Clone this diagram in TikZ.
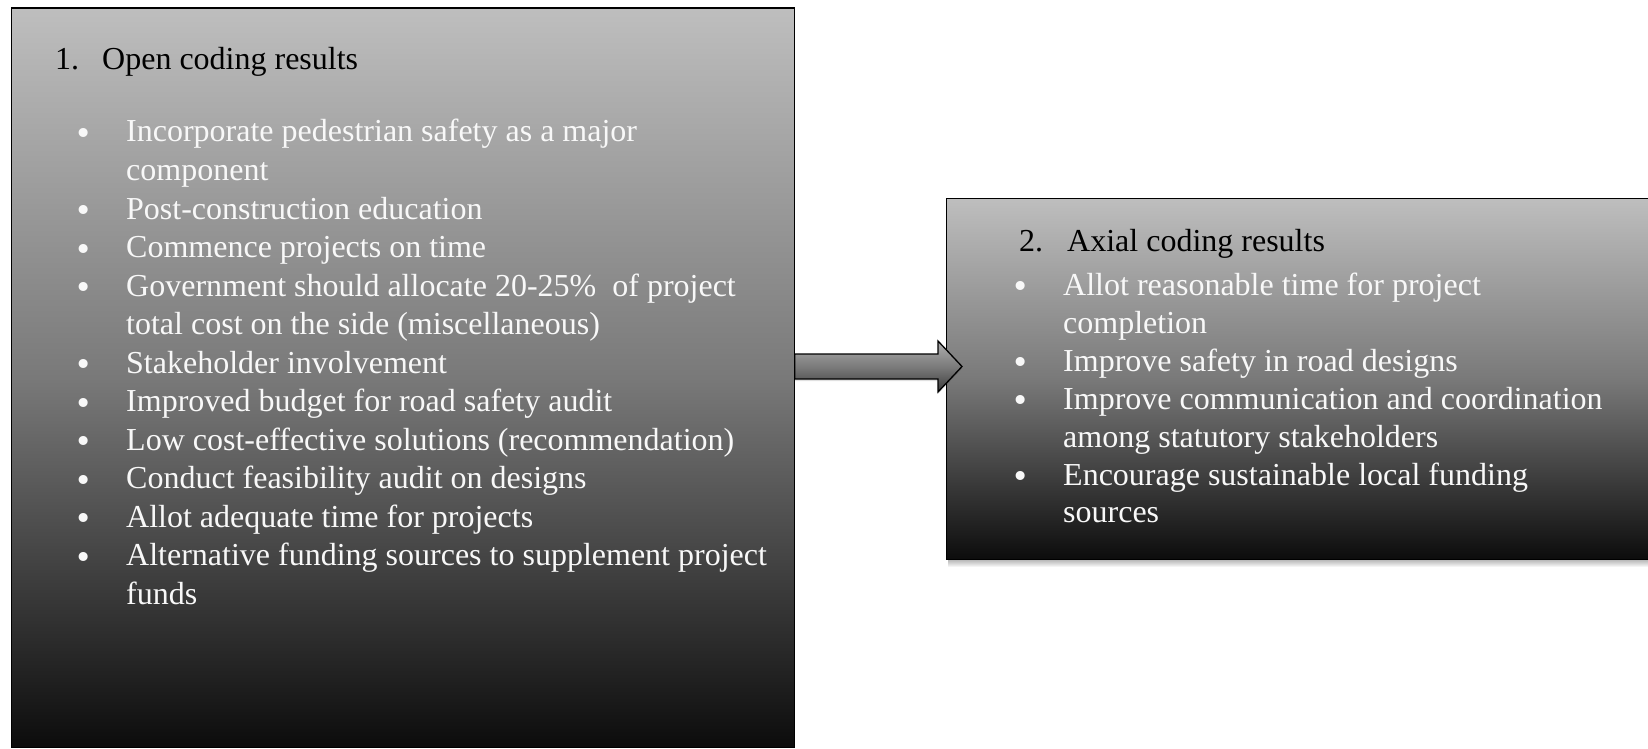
\documentclass[tikz,border=0pt]{standalone}
\usepackage{fontspec}
\setmainfont{Liberation Serif}
\newfontfamily\bulletfont{DejaVu Sans}
\usetikzlibrary{calc}
\definecolor{shadetop}{RGB}{190,190,190}
\definecolor{shademid}{RGB}{121,121,121}
\definecolor{shadebot}{RGB}{12,12,12}
\definecolor{arrowtop}{RGB}{175,175,175}
\definecolor{arrowbot}{RGB}{60,60,60}
\definecolor{itemwhite}{RGB}{248,248,248}
\begin{document}
\begin{tikzpicture}[x=1pt,y=-1pt,
  panel/.style={draw=black, line width=1.3pt, top color=shadetop,
    bottom color=shadebot, middle color=shademid, inner sep=0pt},
  headtxt/.style={anchor=base west, inner sep=0pt, text=black,
    font=\fontsize{32}{38}\selectfont},
  itemtxt/.style={anchor=base west, inner sep=0pt, text=itemwhite,
    font=\fontsize{32}{38}\selectfont},
  bul/.style={anchor=base, inner sep=0pt, text=itemwhite, yshift=-2.5pt,
    font=\bulletfont\fontsize{31}{36}\selectfont},
  blockarrow/.style={draw=black, line width=1.3pt, line join=miter,
    top color=arrowtop, bottom color=arrowbot, middle color=arrowtop!55!arrowbot}
]
\useasboundingbox (0,0) rectangle (1648,749);

% left panel: open coding
\node[panel, anchor=north west, minimum width=783pt, minimum height=739pt] (ob) at (10.5,7.5) {};

% soft shadow under the right panel
\foreach \d in {1,...,8}
  \fill[black, opacity=0.045] ($(946,198)+(2,\d)$) rectangle ($(1660,559)+(0,\d)$);

% right panel: axial coding
\node[panel, anchor=north west, minimum width=714pt, minimum height=361pt] (ab) at (946,198) {};

% left panel texts
\node[headtxt] (on) at (55,70) {1.};
\node[headtxt] (ot) at (102,70) {Open coding results};

\node[bul] (ob1) at (84,142) {•};
\node[itemtxt] (oi1a) at (126,142) {Incorporate pedestrian safety as a major};
\node[itemtxt] (oi1b) at (126,180.5) {component};
\node[bul] (ob2) at (84,219) {•};
\node[itemtxt] (oi2) at (126,219) {Post-construction education};
\node[bul] (ob3) at (84,257.5) {•};
\node[itemtxt] (oi3) at (126,257.5) {Commence projects on time};
\node[bul] (ob4) at (84,296) {•};
\node[itemtxt] (oi4a) at (126,296) {Government should allocate 20-25\%\enspace of project};
\node[itemtxt] (oi4b) at (126,334.5) {total cost on the side (miscellaneous)};
\node[bul] (ob5) at (84,373) {•};
\node[itemtxt] (oi5) at (126,373) {Stakeholder involvement};
\node[bul] (ob6) at (84,411.5) {•};
\node[itemtxt] (oi6) at (126,411.5) {Improved budget for road safety audit};
\node[bul] (ob7) at (84,450) {•};
\node[itemtxt] (oi7) at (126,450) {Low cost-effective solutions (recommendation)};
\node[bul] (ob8) at (84,488.5) {•};
\node[itemtxt] (oi8) at (126,488.5) {Conduct feasibility audit on designs};
\node[bul] (ob9) at (84,527) {•};
\node[itemtxt] (oi9) at (126,527) {Allot adequate time for projects};
\node[bul] (ob10) at (84,565.5) {•};
\node[itemtxt] (oi10a) at (126,565.5) {Alternative funding sources to supplement project};
\node[itemtxt] (oi10b) at (126,604) {funds};

% right panel texts
\node[headtxt] (an) at (1019,251) {2.};
\node[headtxt] (at) at (1067,251) {Axial coding results};

\node[bul] (ab1) at (1021,295) {•};
\node[itemtxt] (ai1a) at (1063,295) {Allot reasonable time for project};
\node[itemtxt] (ai1b) at (1063,333) {completion};
\node[bul] (ab2) at (1021,371) {•};
\node[itemtxt] (ai2) at (1063,371) {Improve safety in road designs};
\node[bul] (ab3) at (1021,409) {•};
\node[itemtxt] (ai3a) at (1063,409) {Improve communication and coordination};
\node[itemtxt] (ai3b) at (1063,447) {among statutory stakeholders};
\node[bul] (ab4) at (1021,485) {•};
\node[itemtxt] (ai4a) at (1063,485) {Encourage sustainable local funding};
\node[itemtxt] (ai4b) at (1063,522) {sources};

% block arrow from the left panel into the right panel
\coordinate (atail) at (ob.east |- 0,366.5);
\coordinate (atip) at ($(ab.west |- atail)+(16,0)$);
% faint shadow of the arrow, shifted slightly downwards
\fill[black, opacity=0.12] let \p1=(atail), \p2=(atip) in
  (\x1,\y1+10.5pt) -- (\x2-24pt,\y1+10.5pt) -- (\x2-24pt,\y1+23.5pt) -- (\x2,\y2-2pt)
  -- (\x2-24pt,\y1-27.5pt) -- (\x2-24pt,\y1-14.5pt) -- (\x1,\y1-14.5pt) -- cycle;
\draw[blockarrow] let \p1=(atail), \p2=(atip) in
  (\x1,\y1+12.5pt) -- (\x2-24pt,\y1+12.5pt) -- (\x2-24pt,\y1+25.5pt) -- (\x2,\y2)
  -- (\x2-24pt,\y1-25.5pt) -- (\x2-24pt,\y1-12.5pt) -- (\x1,\y1-12.5pt) -- cycle;
\end{tikzpicture}
\end{document}
